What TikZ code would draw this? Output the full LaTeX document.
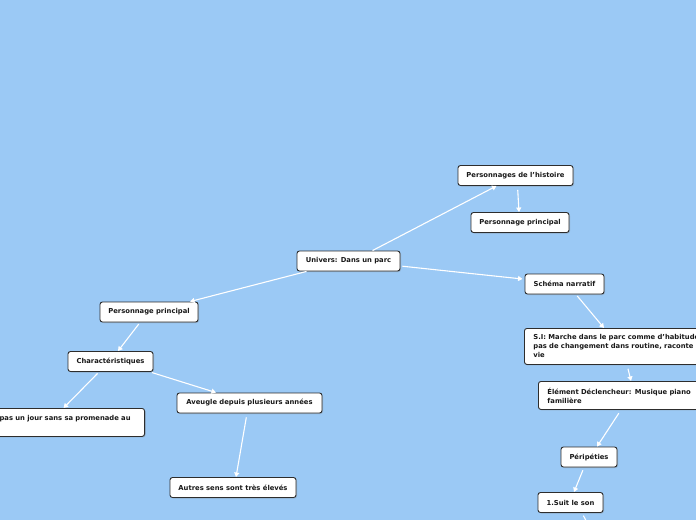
\documentclass[tikz,border=0pt]{standalone}
\usepackage{fontspec}
\setmainfont{DejaVu Sans}
\usepackage{tikz}
\usetikzlibrary{arrows.meta, shadows}
\definecolor{fond}{RGB}{155,201,245}
\definecolor{bord}{RGB}{45,45,45}
\definecolor{encre}{RGB}{25,25,25}
\tikzset{
  % --- Carte mentale ----------------------------------------
  idee/.style={draw=bord, line width=0.9pt, rounded corners=2.5pt, fill=white,
    text=encre, font=\fontsize{6.8}{9}\selectfont\bfseries, inner sep=0pt,
    minimum height=20pt, align=center,
    drop shadow={shadow xshift=1pt, shadow yshift=-1pt, opacity=0.35}},
  ideel/.style={idee, align=left, inner xsep=9pt, inner ysep=5pt},
  lien/.style={-{Triangle[length=4.5pt, width=5pt]}, draw=white, line width=1.1pt}
}
\begin{document}
\begin{tikzpicture}[x=1pt, y=-1pt]

  \path[use as bounding box, fill=fond] (0,0) rectangle (696,520);

  \node[idee, minimum width=103pt] (univ) at (348.5,261) {Univers: Dans un parc};
  \node[idee, minimum width=115pt] (hist) at (515.5,175.5) {Personnages de l'histoire};
  \node[idee, minimum width=98pt]  (pp1)  at (520,222.5) {Personnage principal};
  \node[idee, minimum width=79pt]  (schema) at (564.5,284) {Schéma narratif};
  \node[idee, minimum width=98pt]  (pp2)  at (149,312) {Personnage principal};
  \node[idee, minimum width=85pt]  (car)  at (110.5,361.5) {Charactéristiques};
  \node[idee, minimum width=145pt] (avg)  at (249.5,403) {Aveugle depuis plusieurs années};
  \node[idee, minimum width=126pt] (autres) at (233,487.5) {Autres sens sont très élevés};
  \node[ideel, anchor=north east, text width=136pt, minimum height=28pt] (prom) at (145,408)
    {pas un jour sans sa promenade au\\ \mbox{}};

  % --- Schema narratif, colonne de droite ---
  \node[ideel, anchor=north west, text width=175pt, minimum height=36pt] (si) at (524,328)
    {S.I: Marche dans le parc comme d'habitude\\pas de changement dans routine, raconte\\vie};
  \node[ideel, anchor=north west, text width=160pt, minimum height=28pt] (elem) at (538,381)
    {Élément Déclencheur: Musique piano\\familière};
  \node[idee, minimum width=56pt]  (peri) at (589,457) {Péripéties};
  \node[idee, minimum width=65pt]  (suit) at (570.5,502.5) {1.Suit le son};
  \coordinate (suite) at (592,532);

  % --- Liens ---
  \draw[lien] ([xshift=24pt]univ.north) -- ([xshift=-19pt]hist.south);
  \draw[lien, shorten <=4pt] ([xshift=2pt]hist.south) -- ([xshift=-1pt]pp1.north);
  \draw[lien, shorten <=2pt] ([yshift=-5pt]univ.east) -- ([yshift=5pt,xshift=-2pt]schema.west);
  \draw[lien] ([xshift=-42pt]univ.south) -- ([xshift=41pt]pp2.north);
  \draw[lien, shorten <=2pt] ([xshift=-9pt]pp2.south) -- ([xshift=7.5pt]car.north);
  \draw[lien, shorten <=2pt] ([xshift=-11.5pt]car.south) -- ([xshift=-4pt]prom.north);
  \draw[lien, shorten <=2pt] ([xshift=39.5pt]car.south) -- ([xshift=-33.5pt]avg.north);
  \draw[lien, shorten <=4pt] ([xshift=-2.5pt]avg.south) -- ([xshift=3pt]autres.north);
  \draw[lien, shorten <=2pt] ([xshift=11.5pt]schema.south) -- ([xshift=80pt]si.north west);
  \draw[lien, shorten <=4pt] ([xshift=103pt]si.south west) -- ([xshift=93pt]elem.north west);
  \draw[lien, shorten <=4pt] ([xshift=83pt]elem.south west) -- ([xshift=8pt]peri.north);
  \draw[lien, shorten <=3pt] ([xshift=-5pt]peri.south) -- ([xshift=3.5pt]suit.north);
  \draw[lien, shorten <=3pt] ([xshift=11.5pt]suit.south) -- (suite);

\end{tikzpicture}
\end{document}
